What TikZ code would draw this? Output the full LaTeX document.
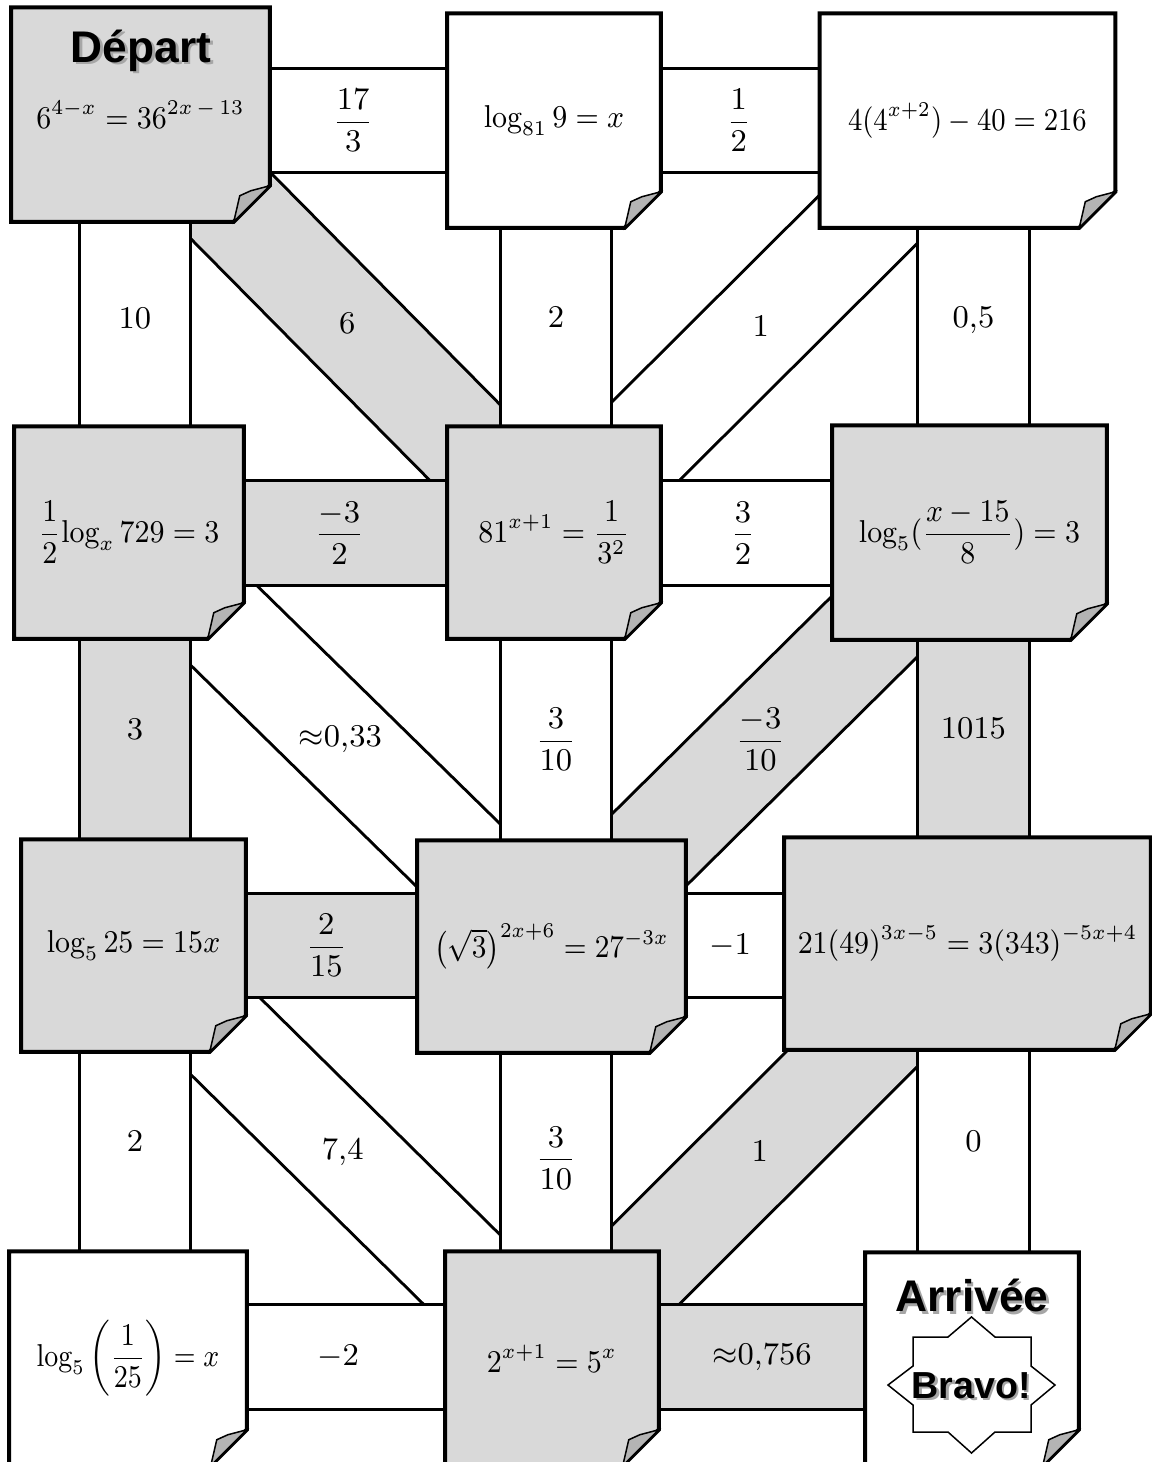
\documentclass[tikz,border=0pt]{standalone}
\usepackage{amsmath}
\usepackage{fontspec}
\newfontfamily\titlefont{Liberation Sans}
\definecolor{paper}{HTML}{D9D9D9}
\definecolor{curl}{HTML}{B4B4B4}
\pgfdeclarelayer{back}
\pgfdeclarelayer{sheet}
\pgfsetlayers{back,sheet,main}

\tikzset{
    card/.style={inner sep=0pt},
    edge/.style={line width=0.04cm, line join=miter},
    curlline/.style={fill=curl, draw, line width=0.015cm},
    lane/.style={line width=0.03cm, double distance=1.01cm},
    upright/.style={line width=0.03cm, double distance=1.08cm},
    slant/.style={line width=0.03cm, double distance=1cm},
    onroute/.style={double=paper},
    offroute/.style={double=white},
    title/.style={font=\titlefont\bfseries\fontsize{12.6}{15}\selectfont, inner sep=0pt},
    starline/.style={fill=white, draw, line width=0.015cm}
}

\newcommand{\papersheet}[2]{%
    \begin{pgfonlayer}{sheet}
        \draw [edge, fill=#2] (#1.north west) -- (#1.north east)
            -- ([yshift=0.36cm]#1.south east) -- ([xshift=-0.36cm]#1.south east)
            -- (#1.south west) -- cycle;
        \draw [curlline] ([xshift=-0.36cm]#1.south east)
            -- ([xshift=-0.30cm, yshift=0.26cm]#1.south east)
            -- ([xshift=-0.19cm, yshift=0.31cm]#1.south east)
            -- ([yshift=0.36cm]#1.south east) -- cycle;
    \end{pgfonlayer}}
\newcommand{\shadowed}[1]{\makebox[0pt][l]{\kern0.8pt\raisebox{-0.8pt}{\color{black!35}#1}}#1}
\newcommand{\eq}[2][0.92]{\scalebox{#1}[1]{$#2$}}

\begin{document}
\begin{tikzpicture}[x=0.01cm, y=-0.01cm, font=\small]
    \useasboundingbox (0,0) rectangle (1152,1462);

    % the sheets
    \node [card, minimum width=2.57cm, minimum height=2.13cm] (A) at (140.5,114.5) {\eq{6^{4-x} = 36^{2x\,-\,13}}};
    \node [card, minimum width=2.12cm, minimum height=2.13cm] (B) at (554,120.5) {\eq{\log_{81} 9 = x}};
    \node [card, minimum width=2.94cm, minimum height=2.13cm] (C) at (967.5,120.5) {\eq[0.88]{4(4^{x+2}) - 40 = 216}};
    \node [card, minimum width=2.28cm, minimum height=2.11cm] (D) at (129,532.5) {\eq{\dfrac{1}{2}\!\log_x 729 = 3}};
    \node [card, minimum width=2.12cm, minimum height=2.11cm] (E) at (554,532.5) {\eq{81^{x+1} = \dfrac{1}{3^2}}};
    \node [card, minimum width=2.73cm, minimum height=2.13cm] (F) at (969.5,532.5) {\eq{\log_5(\dfrac{x-15}{8}) = 3}};
    \node [card, minimum width=2.23cm, minimum height=2.11cm] (G) at (133.5,945.5) {\eq{\log_5 25 = 15x}};
    \node [card, minimum width=2.67cm, minimum height=2.11cm] (H) at (551.5,946.5) {\eq[0.9]{\left(\sqrt{3}\right)^{2x+6} = 27^{-3x}}};
    \node [card, minimum width=3.65cm, minimum height=2.11cm] (I) at (967.5,943.5) {\eq{21(49)^{3x-5} = 3(343)^{-5x+4}}};
    \node [card, minimum width=2.36cm, minimum height=2.13cm] (J) at (128,1358.5) {\eq[0.86]{\log_5\left(\dfrac{1}{25}\right) = x}};
    \node [card, minimum width=2.12cm, minimum height=2.13cm] (K) at (552,1358.5) {\eq{2^{x+1} = 5^x}};
    \node [card, minimum width=2.12cm, minimum height=2.12cm] (L) at (972,1359) {};

    \foreach \s/\c in {A/paper, B/white, C/white, D/paper, E/paper, F/paper,
                       G/paper, H/paper, I/paper, J/white, K/paper, L/white}
        {\papersheet{\s}{\c}}

    \node [title, anchor=base] (start) at (141,62) {\shadowed{Départ}};
    \node [title, anchor=base] (finish) at (972,1311.5) {\shadowed{Arrivée}};
    \coordinate (prize) at (971.5,1385);
    \draw [starline, shift={(prize)}] (-58.5,-48) -- (-23.5,-48) -- (0,-68) -- (23.5,-48)
        -- (59.5,-48) -- (59.5,-19) -- (83.5,0) -- (59.5,20) -- (59.5,47) -- (23.5,47)
        -- (0,68) -- (-23.5,47) -- (-58.5,47) -- (-58.5,20) -- (-83.5,0) -- (-58.5,-19) -- cycle;
    \node [title, font=\titlefont\bfseries\fontsize{10.7}{13}\selectfont, anchor=base]
        (bravo) at (971,1398) {\shadowed{Bravo!}};

    % lanes between the sheets
    \coordinate (r1) at (0,120.5);
    \coordinate (r2) at (0,533);
    \coordinate (r3) at (0,945.5);
    \coordinate (r4) at (0,1357);
    \coordinate (c1) at (135,0);
    \coordinate (c2) at (556,0);
    \coordinate (c3) at (973.5,0);

    \begin{pgfonlayer}{back}
        \fill [white] (0,0) rectangle (1152,1462);
        \draw [slant, onroute] (A.center) -- (E.center) node [midway] (tae) {$6$};
        \draw [slant, offroute] (C.center) -- (E.center) node [midway] (tce) {$1$};
        \draw [slant, offroute] (D.center) -- (H.center) node [midway] (tdh) {${\approx}0{,}33$};
        \draw [slant, onroute] (F.center) -- (H.center) node [midway] (tfh) {$\dfrac{-3}{10}$};
        \draw [slant, offroute] (G.center) -- (K.center) node [midway] (tgk) {$7{,}4$};
        \draw [slant, onroute] (I.center) -- (K.center) node [midway] (tik) {$1$};

        \draw [lane, offroute] (A.east |- r1) -- (B.west |- r1) node [pos=0.47] (tab) {$\dfrac{17}{3}$};
        \draw [lane, offroute] (B.east |- r1) -- (C.west |- r1) node [pos=0.49] (tbc) {$\dfrac{1}{2}$};
        \draw [lane, onroute] (D.east |- r2) -- (E.west |- r2) node [pos=0.47] (tde) {$\dfrac{-3}{2}$};
        \draw [lane, offroute] (E.east |- r2) -- (F.west |- r2) node [pos=0.48] (tef) {$\dfrac{3}{2}$};
        \draw [lane, onroute] (G.east |- r3) -- (H.west |- r3) node [pos=0.47] (tgh) {$\dfrac{2}{15}$};
        \draw [lane, offroute] (H.east |- r3) -- (I.west |- r3) node [pos=0.45] (thi) {$-1$};
        \draw [lane, offroute] (J.east |- r4) -- (K.west |- r4) node [pos=0.46] (tjk) {$-2$};
        \draw [lane, onroute] (K.east |- r4) -- (L.west |- r4) node [midway] (tkl) {${\approx}0{,}756$};

        \draw [upright, offroute] (c1 |- A.south) -- (c1 |- D.north) node [pos=0.47] (tad) {$10$};
        \draw [upright, offroute] (c2 |- B.south) -- (c2 |- E.north) node [pos=0.45] (tbe) {$2$};
        \draw [upright, offroute] (c3 |- C.south) -- (c3 |- F.north) node [pos=0.47] (tcf) {$0{,}5$};
        \draw [upright, onroute] (c1 |- D.south) -- (c1 |- G.north) node [pos=0.45] (tdg) {$3$};
        \draw [upright, offroute] (c2 |- E.south) -- (c2 |- H.north) node [midway] (teh) {$\dfrac{3}{10}$};
        \draw [upright, onroute] (c3 |- F.south) -- (c3 |- I.north) node [pos=0.45] (tfi) {$1015$};
        \draw [upright, offroute] (c1 |- G.south) -- (c1 |- J.north) node [pos=0.45] (tgj) {$2$};
        \draw [upright, offroute] (c2 |- H.south) -- (c2 |- K.north) node [pos=0.53] (thk) {$\dfrac{3}{10}$};
        \draw [upright, offroute] (c3 |- I.south) -- (c3 |- L.north) node [pos=0.45] (til) {$0$};
    \end{pgfonlayer}
\end{tikzpicture}
\end{document}
